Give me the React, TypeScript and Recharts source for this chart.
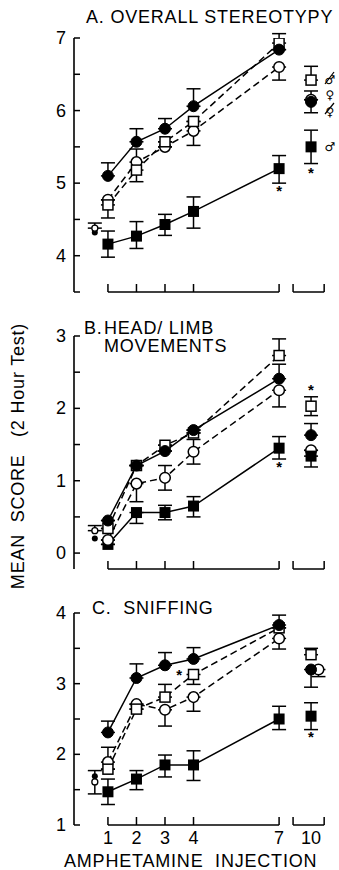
import React from 'react';
import { ComposedChart, Scatter, XAxis, YAxis, ErrorBar, ReferenceLine } from 'recharts';

// ---------- shared x categories ----------
const injections = [1, 2, 3, 4, 7];
const injectionLabels = ['1', '2', '3', '4', '7'];
const lastInjectionLabel = '10';
const X_PRE = 0.54; // pre-test (saline) position
const X_LAST = 8.12; // position of injection 10 on the broken axis
const X_LAST_OFF = 8.38; // side-by-side symbol at injection 10
const BRACKET_2 = [7.49, 8.58];

// ---------- Panel A: overall stereotypy ----------
const aFilledCircle = [5.1, 5.57, 5.75, 6.06, 6.84];
const aFilledCircleLo = [0, 0, 0, 0, 0];
const aFilledCircleHi = [0.18, 0.18, 0.14, 0.24, 0];
const aOpenSquare = [4.7, 5.18, 5.57, 5.85, 6.93];
const aOpenSquareLo = [0.18, 0.16, 0, 0, 0];
const aOpenSquareHi = [0, 0, 0, 0, 0.13];
const aOpenCircle = [4.77, 5.29, 5.5, 5.72, 6.6];
const aOpenCircleLo = [0, 0, 0, 0.2, 0.18];
const aOpenCircleHi = [0, 0.18, 0, 0, 0];
const aFilledSquare = [4.16, 4.27, 4.43, 4.61, 5.2];
const aFilledSquareLo = [0.18, 0.17, 0.15, 0.23, 0.2];
const aFilledSquareHi = [0.18, 0.2, 0.14, 0.2, 0.18];
const aPre = { openCircle: 4.38, filledCircle: 4.32, lo: 0.1, hi: 0.07 };
const aLast = { openSquare: 6.42, openSquareHi: 0.19, filledCircle: 6.12, filledCircleErr: 0.15, openCircle: 6.15, filledSquare: 5.5, filledSquareErr: 0.23 };
const aStars = [{ x: 7, y: 4.9 }, { x: X_LAST, y: 5.15 }];

// ---------- Panel B: head/limb movements ----------
const bFilledCircle = [0.45, 1.21, 1.41, 1.7, 2.41];
const bFilledCircleLo = [0, 0, 0, 0, 0];
const bFilledCircleHi = [0, 0, 0, 0, 0.2];
const bOpenSquare = [0.34, 1.21, 1.49, 1.66, 2.73];
const bOpenSquareLo = [0, 0, 0, 0, 0];
const bOpenSquareHi = [0, 0, 0, 0, 0.23];
const bOpenCircle = [0.18, 0.96, 1.04, 1.4, 2.25];
const bOpenCircleLo = [0, 0.25, 0.17, 0.17, 0.23];
const bOpenCircleHi = [0, 0, 0.17, 0.17, 0];
const bFilledSquare = [0.12, 0.56, 0.56, 0.65, 1.45];
const bFilledSquareLo = [0, 0.15, 0.1, 0.15, 0.15];
const bFilledSquareHi = [0, 0, 0.1, 0.13, 0.16];
const bPre = { openCircle: 0.31, filledCircle: 0.2, lo: 0, hi: 0.07 };
const bLast = { openSquare: 2.03, openSquareHi: 0.13, openSquareLo: 0.13, filledCircle: 1.63, filledCircleHi: 0.16, openCircle: 1.42, filledSquare: 1.34, filledSquareLo: 0.15 };
const bStars = [{ x: 7, y: 1.2 }, { x: X_LAST, y: 2.27 }];

// ---------- Panel C: sniffing ----------
const cFilledCircle = [2.31, 3.08, 3.26, 3.35, 3.83];
const cFilledCircleLo = [0, 0, 0, 0, 0];
const cFilledCircleHi = [0.16, 0.2, 0.18, 0.16, 0.14];
const cOpenSquare = [1.79, 2.64, 2.81, 3.13, 3.79];
const cOpenSquareLo = [0, 0, 0, 0.14, 0];
const cOpenSquareHi = [0, 0, 0.18, 0, 0];
const cOpenCircle = [1.89, 2.71, 2.63, 2.81, 3.64];
const cOpenCircleLo = [0, 0, 0.23, 0.2, 0.15];
const cOpenCircleHi = [0.21, 0, 0, 0, 0];
const cFilledSquare = [1.47, 1.65, 1.85, 1.85, 2.5];
const cFilledSquareLo = [0.18, 0.15, 0.17, 0.22, 0.15];
const cFilledSquareHi = [0.18, 0.12, 0.14, 0.2, 0.18];
const cPre = { openCircle: 1.61, filledCircle: 1.69, lo: 0.17, hi: 0.16 };
const cLast = { openSquare: 3.41, openSquareHi: 0.09, filledCircle: 3.2, filledCircleLo: 0.25, openCircle: 3.2, openCircleLo: 0.1, filledSquare: 2.54, filledSquareErr: 0.19 };
const cStars = [{ x: 3.5, y: 3.14 }, { x: X_LAST, y: 2.26 }];

// ---------- helpers ----------
type Pt = { x: number; y: number; e: [number, number] };
const series = (ys: number[], lo: number[], hi: number[]): Pt[] =>
  injections.map((x, i) => ({ x, y: ys[i], e: [lo[i], hi[i]] as [number, number] }));
const pt = (x: number, y: number, lo = 0, hi = 0): Pt[] => [{ x, y, e: [lo, hi] }];

const FONT = "'Liberation Sans', Arial, Helvetica, sans-serif";
const SW = 1.5;

const FilledCircle = (p: any) => <circle cx={p.cx} cy={p.cy} r={5.5} fill="#000" stroke="#000" strokeWidth={1} />;
const OpenCircle = (p: any) => <circle cx={p.cx} cy={p.cy} r={5.3} fill="#fff" stroke="#000" strokeWidth={SW} />;
const OpenSquare = (p: any) => <rect x={p.cx - 5} y={p.cy - 5} width={10} height={10} fill="#fff" stroke="#000" strokeWidth={SW} />;
const FilledSquare = (p: any) => <rect x={p.cx - 5.5} y={p.cy - 5.5} width={11} height={11} fill="#000" />;
const SmallFilled = (p: any) => <circle cx={p.cx} cy={p.cy} r={3} fill="#000" />;
const SmallOpen = (p: any) => <circle cx={p.cx} cy={p.cy} r={3} fill="#fff" stroke="#000" strokeWidth={1.3} />;
const Star = (p: any) => (
  <text x={p.cx} y={p.cy + 6} textAnchor="middle" fontSize={15} fontFamily={FONT} fontWeight="bold" fill="#000">*</text>
);
const NoShape = () => <g />;

const bracketTicks = [1, 2, 3, 4, 7, BRACKET_2[0], BRACKET_2[1]];
const xTickValues = [...bracketTicks, X_LAST];
const xLabelFor = (v: number): string | null => {
  const i = injections.indexOf(v);
  if (i >= 0) return injectionLabels[i];
  if (v === X_LAST) return lastInjectionLabel;
  return null;
};

const XTick = (props: any) => {
  const { x, y, payload, showLabels } = props;
  const v = payload.value;
  const label = showLabels ? xLabelFor(v) : null;
  return (
    <g>
      {bracketTicks.includes(v) && <line x1={x} x2={x} y1={y} y2={y - 8} stroke="#000" strokeWidth={SW} />}
      {label && (
        <text x={x} y={y + 19} textAnchor="middle" fontSize={18} fontFamily={FONT} fill="#000">{label}</text>
      )}
    </g>
  );
};

const YTick = (props: any) => {
  const { x, y, payload, labeled } = props;
  const v = payload.value;
  return (
    <g>
      <line x1={x} x2={x + 6} y1={y} y2={y} stroke="#000" strokeWidth={SW} />
      {labeled.includes(v) && (
        <text x={x - 8} y={y + 6} textAnchor="end" fontSize={18} fontFamily={FONT} fill="#000">{v}</text>
      )}
    </g>
  );
};

type PanelData = {
  fc: Pt[]; os: Pt[]; oc: Pt[]; fs: Pt[];
  preOpen: Pt[]; preFilled: Pt[];
  lastOs: Pt[]; lastFc: Pt[]; lastOc: Pt[]; lastFs: Pt[];
  stars: { x: number; y: number }[];
};

type PanelCfg = {
  top: number; height: number; mt: number; xh: number;
  domain: [number, number]; ticks: number[]; labeled: number[]; showLabels: boolean;
  data: PanelData;
};

const dashed = { stroke: '#000', strokeWidth: SW, strokeDasharray: '7 4', fill: 'none' };
const solid = { stroke: '#000', strokeWidth: SW, fill: 'none' };

const ErrBar = () => <ErrorBar dataKey="e" direction="y" width={7} stroke="#000" strokeWidth={SW} />;

function Panel({ cfg }: { cfg: PanelCfg }) {
  const d = cfg.data;
  const ymin = cfg.domain[0];
  return (
    <div style={{ position: 'absolute', left: 0, top: cfg.top }}>
      <ComposedChart width={339} height={cfg.height} margin={{ top: cfg.mt, right: 4, bottom: 0, left: 0 }}>
        <XAxis
          type="number" dataKey="x" domain={[-0.19, 8.96]} ticks={xTickValues} interval={0}
          tickSize={0} tickMargin={0} axisLine={false} tickLine={false} height={cfg.xh}
          allowDataOverflow
          tick={(p: any) => <XTick {...p} showLabels={cfg.showLabels} />}
        />
        <YAxis
          type="number" dataKey="y" domain={cfg.domain} ticks={cfg.ticks} interval={0} width={74}
          tickSize={0} tickMargin={0} tickLine={false} allowDataOverflow
          axisLine={{ stroke: '#000', strokeWidth: 1.6 }}
          tick={(p: any) => <YTick {...p} labeled={cfg.labeled} />}
        />
        <ReferenceLine segment={[{ x: 1, y: ymin }, { x: 7, y: ymin }]} stroke="#000" strokeWidth={SW} ifOverflow="visible" />
        <ReferenceLine segment={[{ x: BRACKET_2[0], y: ymin }, { x: BRACKET_2[1], y: ymin }]} stroke="#000" strokeWidth={SW} ifOverflow="visible" />

        {/* connecting lines first */}
        <Scatter data={d.fs} line={solid} lineType="joint" shape={NoShape} isAnimationActive={false} />
        <Scatter data={d.oc} line={dashed} lineType="joint" shape={NoShape} isAnimationActive={false} />
        <Scatter data={d.os} line={dashed} lineType="joint" shape={NoShape} isAnimationActive={false} />
        <Scatter data={d.fc} line={solid} lineType="joint" shape={NoShape} isAnimationActive={false} />

        {/* markers with error bars */}
        <Scatter data={d.fs} shape={FilledSquare} isAnimationActive={false}>{ErrBar()}</Scatter>
        <Scatter data={d.oc} shape={OpenCircle} isAnimationActive={false}>{ErrBar()}</Scatter>
        <Scatter data={d.os} shape={OpenSquare} isAnimationActive={false}>{ErrBar()}</Scatter>
        <Scatter data={d.fc} shape={FilledCircle} isAnimationActive={false}>{ErrBar()}</Scatter>

        {/* pre-test */}
        <Scatter data={d.preFilled} shape={SmallFilled} isAnimationActive={false} />
        <Scatter data={d.preOpen} shape={SmallOpen} isAnimationActive={false}>{ErrBar()}</Scatter>

        {/* injection 10 */}
        <Scatter data={d.lastOc} shape={OpenCircle} isAnimationActive={false}>{ErrBar()}</Scatter>
        <Scatter data={d.lastFs} shape={FilledSquare} isAnimationActive={false}>{ErrBar()}</Scatter>
        <Scatter data={d.lastOs} shape={OpenSquare} isAnimationActive={false}>{ErrBar()}</Scatter>
        <Scatter data={d.lastFc} shape={FilledCircle} isAnimationActive={false}>{ErrBar()}</Scatter>

        <Scatter data={d.stars} shape={Star} isAnimationActive={false} />
      </ComposedChart>
    </div>
  );
}

const panelA: PanelCfg = {
  top: 0, height: 300, mt: 38, xh: 8,
  domain: [3.5, 7], ticks: [3.5, 4, 4.5, 5, 5.5, 6, 6.5, 7], labeled: [4, 5, 6, 7], showLabels: false,
  data: {
    fc: series(aFilledCircle, aFilledCircleLo, aFilledCircleHi),
    os: series(aOpenSquare, aOpenSquareLo, aOpenSquareHi),
    oc: series(aOpenCircle, aOpenCircleLo, aOpenCircleHi),
    fs: series(aFilledSquare, aFilledSquareLo, aFilledSquareHi),
    preOpen: pt(X_PRE, aPre.openCircle, 0, aPre.hi),
    preFilled: pt(X_PRE, aPre.filledCircle, aPre.lo, 0),
    lastOs: pt(X_LAST, aLast.openSquare, 0, aLast.openSquareHi),
    lastFc: pt(X_LAST, aLast.filledCircle, aLast.filledCircleErr, aLast.filledCircleErr),
    lastOc: pt(X_LAST, aLast.openCircle),
    lastFs: pt(X_LAST, aLast.filledSquare, aLast.filledSquareErr, aLast.filledSquareErr),
    stars: aStars,
  },
};

const panelB: PanelCfg = {
  top: 300, height: 277, mt: 36, xh: 8,
  domain: [-0.22, 3], ticks: [0, 0.5, 1, 1.5, 2, 2.5, 3], labeled: [0, 1, 2, 3], showLabels: false,
  data: {
    fc: series(bFilledCircle, bFilledCircleLo, bFilledCircleHi),
    os: series(bOpenSquare, bOpenSquareLo, bOpenSquareHi),
    oc: series(bOpenCircle, bOpenCircleLo, bOpenCircleHi),
    fs: series(bFilledSquare, bFilledSquareLo, bFilledSquareHi),
    preOpen: pt(X_PRE, bPre.openCircle, 0, bPre.hi),
    preFilled: pt(X_PRE, bPre.filledCircle),
    lastOs: pt(X_LAST, bLast.openSquare, bLast.openSquareLo, bLast.openSquareHi),
    lastFc: pt(X_LAST, bLast.filledCircle, 0, bLast.filledCircleHi),
    lastOc: pt(X_LAST, bLast.openCircle),
    lastFs: pt(X_LAST, bLast.filledSquare, bLast.filledSquareLo, 0),
    stars: bStars,
  },
};

const panelC: PanelCfg = {
  top: 577, height: 293, mt: 36, xh: 45,
  domain: [1, 4], ticks: [1, 1.5, 2, 2.5, 3, 3.5, 4], labeled: [1, 2, 3, 4], showLabels: true,
  data: {
    fc: series(cFilledCircle, cFilledCircleLo, cFilledCircleHi),
    os: series(cOpenSquare, cOpenSquareLo, cOpenSquareHi),
    oc: series(cOpenCircle, cOpenCircleLo, cOpenCircleHi),
    fs: series(cFilledSquare, cFilledSquareLo, cFilledSquareHi),
    preOpen: pt(X_PRE, cPre.openCircle, cPre.lo, cPre.hi),
    preFilled: pt(X_PRE, cPre.filledCircle),
    lastOs: pt(X_LAST, cLast.openSquare, 0, cLast.openSquareHi),
    lastFc: pt(X_LAST, cLast.filledCircle, cLast.filledCircleLo, 0),
    lastOc: pt(X_LAST_OFF, cLast.openCircle, cLast.openCircleLo, 0),
    lastFs: pt(X_LAST, cLast.filledSquare, cLast.filledSquareErr, cLast.filledSquareErr),
    stars: cStars,
  },
};

const textStyle: React.CSSProperties = {
  position: 'absolute', fontFamily: FONT, fontSize: 18, color: '#000', whiteSpace: 'pre', lineHeight: 1,
  letterSpacing: 0.8,
};

// Sex symbols used as the key beside injection 10 (slashed = gonadectomised)
const SexKey = () => (
  <svg width={22} height={92} style={{ position: 'absolute', left: 320, top: 66 }}>
    <g fontFamily="'DejaVu Sans', sans-serif" fontSize={12} textAnchor="middle" fill="#000">
      <text x={10} y={18}>♂</text>
      <text x={10} y={33}>♀</text>
      <text x={10} y={50}>♀</text>
      <text x={10} y={85}>♂</text>
    </g>
    <line x1={5} y1={18} x2={14} y2={6} stroke="#000" strokeWidth={1.2} />
    <line x1={5} y1={48} x2={14} y2={37} stroke="#000" strokeWidth={1.2} />
  </svg>
);

export default function App() {
  return (
    <div style={{ position: 'absolute', left: 0, top: 0, width: 339, height: 870, background: '#fff', overflow: 'hidden' }}>
      <Panel cfg={panelA} />
      <Panel cfg={panelB} />
      <Panel cfg={panelC} />

      <div style={{ ...textStyle, left: 86, top: 8 }}>A. OVERALL STEREOTYPY</div>
      <div style={{ ...textStyle, left: 84, top: 319 }}>B.</div>
      <div style={{ ...textStyle, left: 104, top: 319 }}>{'HEAD/ LIMB\nMOVEMENTS'}</div>
      <div style={{ ...textStyle, left: 92, top: 599 }}>C.  SNIFFING</div>
      <div style={{ ...textStyle, left: 64, top: 852 }}>AMPHETAMINE  INJECTION</div>

      <div style={{ ...textStyle, left: 18, top: 456, transform: 'translate(-50%, -50%) rotate(-90deg)' }}>
        {'MEAN  SCORE   (2 Hour Test)'}
      </div>

      <SexKey />
    </div>
  );
}
